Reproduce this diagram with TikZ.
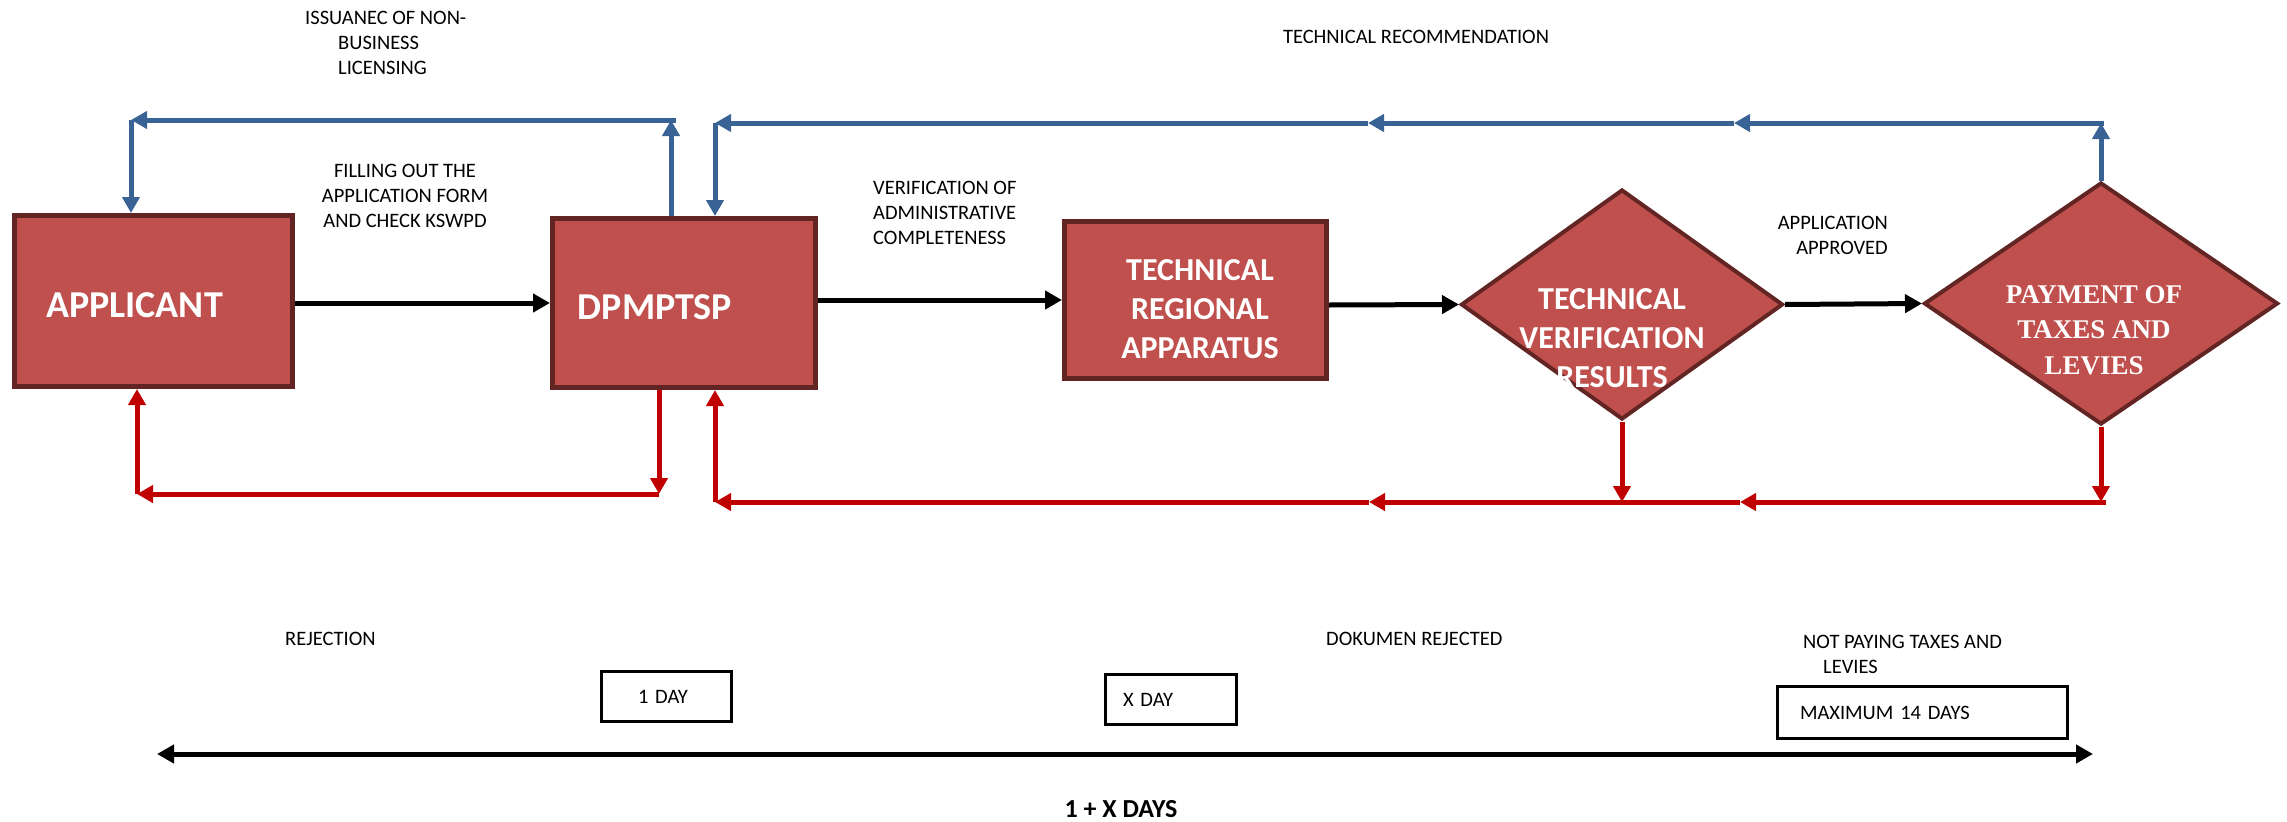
\documentclass[tikz,border=0pt]{standalone}
\usepackage{fontspec}
\setmainfont{Carlito}
\newfontfamily\tnr{Liberation Serif}
\usetikzlibrary{arrows.meta,shapes.geometric,calc}
\definecolor{boxfill}{RGB}{192,80,77}
\definecolor{boxline}{RGB}{99,37,35}
\definecolor{flowblue}{RGB}{57,99,148}
\definecolor{flowred}{RGB}{192,0,0}
\begin{document}
\begin{tikzpicture}[x=1pt,y=-1pt,
  proc/.style={rectangle, fill=boxfill, draw=boxline, line width=5pt, inner sep=0pt},
  dec/.style={diamond, fill=boxfill, draw=boxline, line width=4pt, inner sep=0pt},
  boxtext/.style={text=white, font=\bfseries\fontsize{32}{39}\selectfont, align=center, inner sep=0pt},
  bigtext/.style={text=white, font=\bfseries\fontsize{38}{44}\selectfont, inner sep=0pt},
  serifbox/.style={text=white, font=\tnr\bfseries\fontsize{27}{35.5}\selectfont, align=center, inner sep=0pt},
  lbl/.style={font=\fontsize{20.5}{25}\selectfont, inner sep=0pt},
  daybox/.style={draw=black, line width=3pt, inner ysep=0pt, font=\fontsize{20.5}{25}\selectfont, align=left},
  blackarr/.style={draw=black, line width=5pt, -{Triangle[length=17pt,width=18pt]}},
  bluearr/.style={draw=flowblue, line width=5pt, -{Triangle[length=16pt,width=17pt]}},
  redarr/.style={draw=flowred, line width=5pt, -{Triangle[length=16pt,width=17pt]}}
]
\useasboundingbox (0,0) rectangle (2287,822);

% main nodes
\node[proc, minimum width=278pt, minimum height=171pt,
  label={[bigtext,xshift=-19pt,yshift=-4pt]center:APPLICANT}] (app) at (153.5,301) {};
\node[proc, minimum width=263pt, minimum height=169pt,
  label={[bigtext,xshift=-29pt,yshift=-4pt]center:DPMPTSP}] (dp) at (684,303) {};
\node[proc, minimum width=262pt, minimum height=157pt,
  label={[boxtext,xshift=4.5pt,yshift=-9pt]center:TECHNICAL\\REGIONAL\\APPARATUS}] (tra) at (1195.5,300) {};
\node[dec, minimum width=322pt, minimum height=230pt,
  label={[boxtext,xshift=-10pt,yshift=-33.5pt]center:TECHNICAL\\VERIFICATION\\RESULTS}] (d1) at (1622,304.5) {};
\node[dec, minimum width=354pt, minimum height=242pt,
  label={[serifbox,xshift=-7pt,yshift=-26.5pt]center:PAYMENT OF\\TAXES AND\\LEVIES}] (d2) at (2101,303.5) {};

% black flow
\draw[blackarr] (app.east |- 0,303) -- (dp.west |- 0,303);
\draw[blackarr] (dp.east |- 0,300) -- (tra.west |- 0,300);
\draw[blackarr] (tra.east |- 0,305) -- (d1.west);
\draw[blackarr] (d1.east) -- (d2.west);

% blue: issuance back to applicant
\coordinate (bA) at (671,120);
\coordinate (bB) at (131,120);
\draw[bluearr] (dp.north -| bA) -- (bA);
\draw[bluearr] ([xshift=5pt]bA) -- (bB);
\draw[bluearr] (bB) -- (bB |- app.north);

% blue: technical recommendation
\coordinate (bC) at (2101,123);
\coordinate (bM1) at (1734,123);
\coordinate (bM2) at (1368,123);
\coordinate (bD) at (715,123);
\draw[bluearr] (d2.north) -- (bC);
\draw[bluearr] ([xshift=2.5pt]bC) -- (bM1);
\draw[bluearr] (bM1) -- (bM2);
\draw[bluearr] (bM2) -- (bD);
\draw[bluearr] (bD) -- (bD |- dp.north);

% red: rejection
\coordinate (rA) at (659,494);
\coordinate (rB) at (137,494);
\draw[redarr] (dp.south -| rA) -- (rA);
\draw[redarr] (rA) -- (rB);
\draw[redarr] (rB) -- (rB |- app.south);

% red: document rejected / not paying
\coordinate (rC) at (2103,502);
\coordinate (rM1) at (1740,502);
\coordinate (rM2) at (1369,502);
\coordinate (rD) at (715,502);
\draw[redarr] (d2.south) -- (d2.south |- rC);
\draw[redarr] (d1.south) -- (d1.south |- rC);
\draw[redarr] ([xshift=2.5pt]rC) -- (rM1);
\draw[redarr] (rM1) -- (rM2);
\draw[redarr] (rM2) -- (rD);
\draw[redarr] (rD) -- (rD |- dp.south);

% labels
\node[lbl, anchor=west, align=left] (iss) at (305,43) {ISSUANEC OF NON-\\\hspace*{33pt}BUSINESS\\\hspace*{33pt}LICENSING};
\node[lbl, align=center] (fill) at (405,196) {FILLING OUT THE\\APPLICATION FORM\\AND CHECK KSWPD};
\node[lbl, anchor=west, align=left] (ver) at (873,213) {VERIFICATION OF\\ADMINISTRATIVE\\COMPLETENESS};
\node[lbl] (trec) at (1416,37) {TECHNICAL RECOMMENDATION};
\node[lbl, anchor=east, align=right] (appr) at (1888,235.5) {APPLICATION\\APPROVED};
\node[lbl, anchor=west] (rej) at (285,639) {REJECTION};
\node[lbl, anchor=west] (dok) at (1326,639) {DOKUMEN REJECTED};
\node[lbl, anchor=west, align=left] (notpay) at (1803,654) {NOT PAYING TAXES AND\\\hspace*{20pt}LEVIES};

% day boxes
\node[daybox, text width=56pt, inner xsep=37pt, minimum height=50pt] (oneday) at (666,696.5) {1 DAY};
\node[daybox, text width=96pt, inner xsep=17.5pt, minimum height=50pt] (xday) at (1171,699.5) {X DAY};
\node[daybox, text width=245pt, inner xsep=22.5pt, minimum height=52pt] (maxday) at (1922.5,712.5) {MAXIMUM 14 DAYS};

% timeline
\coordinate (tL) at (157,754);
\coordinate (tR) at (2093,754);
\draw[line width=5pt, {Triangle[length=17pt,width=18pt]}-{Triangle[length=17pt,width=18pt]}] (tL) -- (tR);
\node[font=\bfseries\fontsize{26}{30}\selectfont, inner sep=0pt] (total) at (1121,809) {1 + X DAYS};
\end{tikzpicture}
\end{document}
